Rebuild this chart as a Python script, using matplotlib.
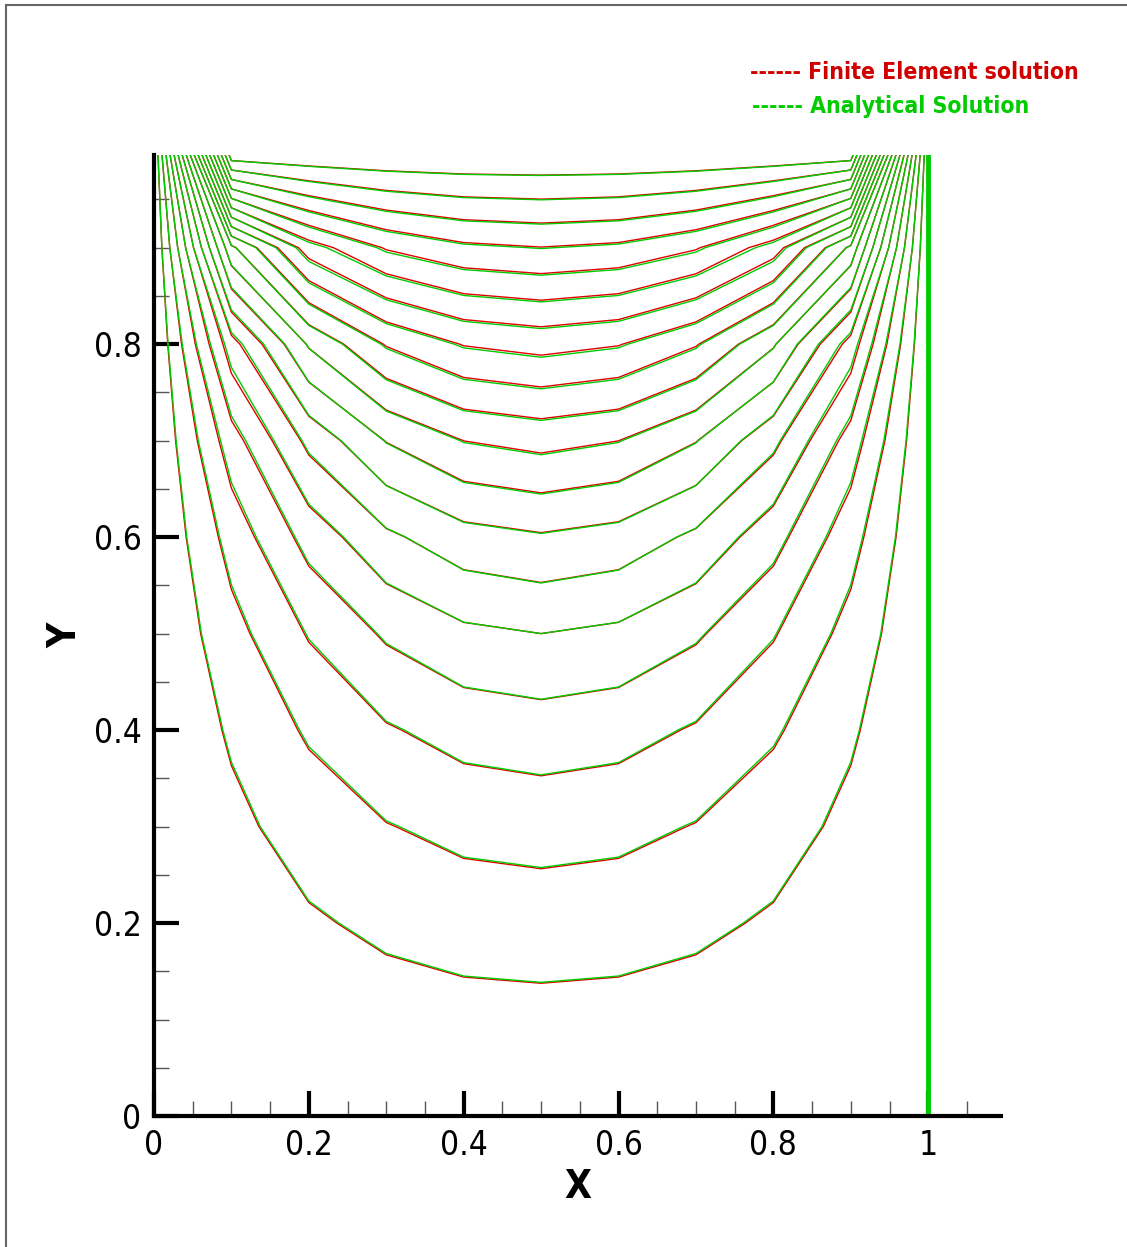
import numpy as np
import matplotlib
matplotlib.use("Agg")
import matplotlib.pyplot as plt
from matplotlib.lines import Line2D

# mesh nodes (unit square, spacing 0.1)
x_nodes = [0.0, 0.1, 0.2, 0.3, 0.4, 0.5, 0.6, 0.7, 0.8, 0.9, 1.0]
y_nodes = [0.0, 0.1, 0.2, 0.3, 0.4, 0.5, 0.6, 0.7, 0.8, 0.9, 1.0]

# nodal values, interior rows y=0.1..0.9, left half x=0.1..0.5 (symmetric about x=0.5)
analytical_half = [
    [0.0109, 0.0208, 0.0285, 0.0334, 0.0351],
    [0.0230, 0.0437, 0.0599, 0.0702, 0.0737],
    [0.0375, 0.0711, 0.0972, 0.1138, 0.1194],
    [0.0562, 0.1060, 0.1444, 0.1684, 0.1765],
    [0.0816, 0.1528, 0.2063, 0.2391, 0.2500],
    [0.1180, 0.2178, 0.2895, 0.3316, 0.3453],
    [0.1745, 0.3122, 0.4028, 0.4523, 0.4679],
    [0.2739, 0.4563, 0.5569, 0.6060, 0.6208],
    [0.4891, 0.6823, 0.7594, 0.7923, 0.8017],
]
fe_half = [
    [0.0111, 0.0210, 0.0288, 0.0337, 0.0354],
    [0.0233, 0.0441, 0.0604, 0.0707, 0.0742],
    [0.0380, 0.0718, 0.0980, 0.1144, 0.1200],
    [0.0570, 0.1071, 0.1453, 0.1690, 0.1770],
    [0.0829, 0.1542, 0.2072, 0.2393, 0.2500],
    [0.1203, 0.2197, 0.2900, 0.3310, 0.3444],
    [0.1788, 0.3141, 0.4020, 0.4503, 0.4656],
    [0.2809, 0.4559, 0.5537, 0.6026, 0.6174],
    [0.4889, 0.6748, 0.7544, 0.7889, 0.7988],
]
top_value = 1.0
levels = [0.05, 0.10, 0.15, 0.20, 0.25, 0.30, 0.35, 0.40, 0.45, 0.50,
          0.55, 0.60, 0.65, 0.70, 0.75, 0.80, 0.85, 0.90, 0.95]
edge_line_x = [1.0, 1.0]
edge_line_y = [0.0, 1.0]

x_ticks = [0, 0.2, 0.4, 0.6, 0.8, 1]
x_labels = ["0", "0.2", "0.4", "0.6", "0.8", "1"]
y_ticks = [0, 0.2, 0.4, 0.6, 0.8]
y_labels = ["0", "0.2", "0.4", "0.6", "0.8"]

RED = "#e00000"
GREEN = "#00cc00"


def full_field(half):
    half = np.array(half)
    inner = np.hstack([half, half[:, -2::-1]])
    z = np.zeros((len(y_nodes), len(x_nodes)))
    z[1:-1, 1:-1] = inner
    z[-1, 1:-1] = top_value
    return z


def main():
    plt.rcParams["font.family"] = ["DejaVu Sans"]
    plt.rcParams["font.stretch"] = "condensed"
    X, Y = np.meshgrid(x_nodes, y_nodes)
    z_fe = full_field(fe_half)
    z_an = full_field(analytical_half)

    fig = plt.figure(figsize=(11.27, 12.47), dpi=100)
    ax = fig.add_axes([0.1366, 0.105, 0.7516, 0.7707])

    ax.contour(X, Y, z_fe, levels=levels, colors=RED, linewidths=1.0)
    ax.contour(X, Y, z_an, levels=levels, colors=GREEN, linewidths=1.0)
    ax.plot(edge_line_x, edge_line_y, color=GREEN, lw=3.5, zorder=2)

    ax.set_xlim(0, 1.094)
    ax.set_ylim(0, 0.996)

    for s in ["top", "right"]:
        ax.spines[s].set_visible(False)
    for s in ["left", "bottom"]:
        ax.spines[s].set_linewidth(3)
        ax.spines[s].set_zorder(3)

    ax.set_xticks(x_ticks)
    ax.set_xticklabels(x_labels)
    ax.set_yticks(y_ticks)
    ax.set_yticklabels(y_labels)
    ax.set_xticks(np.arange(0.05, 1.09, 0.05), minor=True)
    ax.set_yticks(np.arange(0.05, 0.99, 0.05), minor=True)
    ax.tick_params(which="major", direction="in", length=18, width=3,
                   labelsize=24, pad=9, color="black")
    ax.tick_params(which="minor", direction="in", length=11, width=1,
                   color="#555555")

    ax.set_xlabel("X", fontsize=28, fontweight="bold")
    ax.set_ylabel("Y", fontsize=28, fontweight="bold")
    ax.xaxis.set_label_coords(0.5, -0.054)
    ax.yaxis.set_label_coords(-0.082, 0.5)

    fig.text(750 / 1127, 1 - 79 / 1247, "------ Finite Element solution",
             color="#d00000", fontsize=16.5, fontweight="bold", va="baseline")
    fig.text(752 / 1127, 1 - 113 / 1247, "------ Analytical Solution",
             color=GREEN, fontsize=16.5, fontweight="bold", va="baseline")

    # outer frame
    fig.add_artist(Line2D([6 / 1127, 6 / 1127], [0, 1 - 5 / 1247],
                          transform=fig.transFigure, color="#666666", lw=1.5))
    fig.add_artist(Line2D([6 / 1127, 1], [1 - 5 / 1247, 1 - 5 / 1247],
                          transform=fig.transFigure, color="#666666", lw=1.5))

    fig.savefig("out.png", dpi=100)


if __name__ == '__main__':
    main()
